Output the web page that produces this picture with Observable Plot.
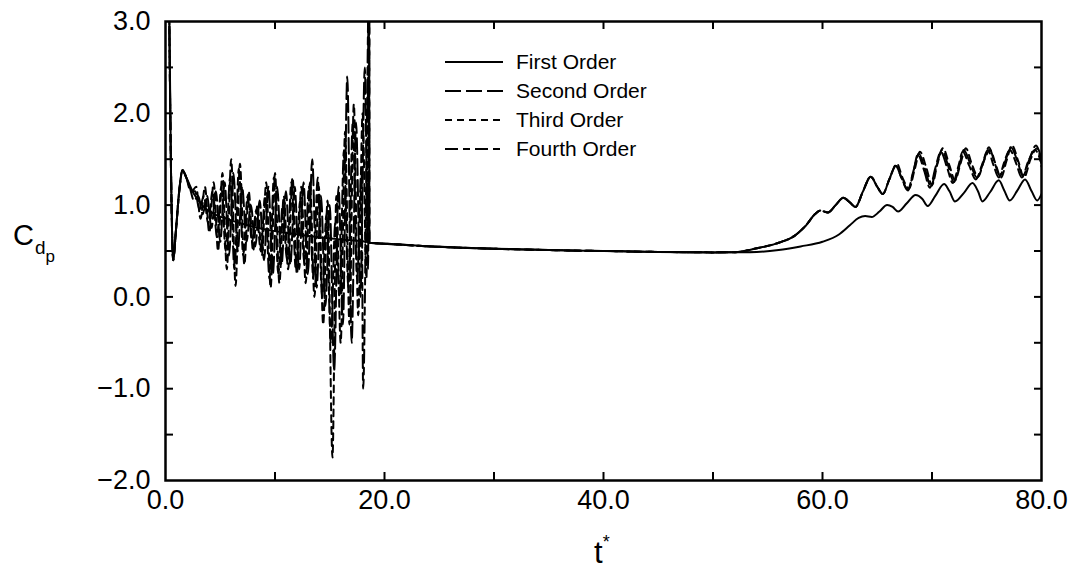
<!DOCTYPE html>
<html><head><meta charset="utf-8">
<script src="https://cdn.jsdelivr.net/npm/d3@7"></script>
<script src="https://cdn.jsdelivr.net/npm/@observablehq/plot@0.6"></script>
<style>
body{margin:0;background:#fff}
#wrap{position:relative;width:1078px;height:571px;font-family:"Liberation Sans",Arial,sans-serif}
#legend{position:absolute;left:0;top:0;pointer-events:none}
</style>
</head><body>
<div id="wrap"></div>
<script>
// ---- data (t*, Cdp) ----
const seriesNames = ["First Order", "Second Order", "Third Order", "Fourth Order"];
const seriesDash = [null, "16,5", "7,5", "13,5,7,5"];

const startup = [[0.3,3.6],[0.5,1.4],[0.7,0.4],[0.95,0.72],[1.25,1.15],[1.55,1.38],[1.9,1.3]];
const firstLeft = [[2.6,1.12],[3.5,0.98],[4.5,0.9],[5.6,0.85],[7.5,0.78],[9.3,0.73],[11.5,0.69],[14,0.65],[16.5,0.62],[18.6,0.595]];
const commonMid = [[18.62,0.59],[20,0.58],[25,0.545],[30,0.525],[35,0.51],[40,0.5],[45,0.49],[50,0.485],[52,0.487]];
const firstRight = [[54,0.49],[56,0.51],[58,0.55],[60,0.6],[61.5,0.68],[62.5,0.78],[63.3,0.86],[63.9,0.88],[64.5,0.87],[65.2,0.93],[65.9,1.0],[66.4,0.98],[66.9,0.93],[67.7,1.02],[68.5,1.11],[69.1,1.07],[69.6,0.99],[70.3,1.1],[71.1,1.23],[71.6,1.15],[72.1,1.04],[72.9,1.13],[73.7,1.24],[74.2,1.15],[74.6,1.04],[75.3,1.14],[76.1,1.27],[76.6,1.16],[77.1,1.05],[77.8,1.16],[78.5,1.28],[79.1,1.15],[79.6,1.05],[80,1.12]];

const secondLeft = [[2.2,1.2],[2.6,1.05],[3.0,1.1],[3.4,0.9],[3.8,1.1],[4.2,0.75],[4.6,1.15],[5.0,0.6],[5.4,1.25],[5.8,0.45],[6.2,1.35],[6.6,0.5],[7.0,1.2],[7.4,0.6],[7.8,1.0],[8.2,0.55],[8.6,1.05],[9.0,0.4],[9.4,1.2],[9.8,0.25],[10.2,1.2],[10.6,0.35],[11.0,1.15],[11.4,0.35],[11.8,1.2],[12.2,0.3],[12.6,1.25],[13.0,0.25],[13.4,1.5],[13.8,0.1],[14.2,1.1],[14.6,-0.1],[15.0,1.0],[15.4,-0.8],[15.8,1.2],[16.2,-0.3],[16.6,2.4],[17.0,-0.5],[17.4,1.9],[17.8,0.0],[18.2,2.5],[18.5,0.3],[18.6,3.6]];
const thirdLeft = [[2.4,1.15],[2.8,1.2],[3.2,0.85],[3.6,1.2],[4.0,0.7],[4.4,1.25],[4.8,0.5],[5.2,1.35],[5.6,0.3],[6.0,1.5],[6.4,0.12],[6.8,1.45],[7.2,0.35],[7.6,1.15],[8.0,0.5],[8.4,1.0],[8.8,0.45],[9.2,1.25],[9.6,0.1],[10.0,1.35],[10.4,0.15],[10.8,1.1],[11.2,0.3],[11.6,1.3],[12.0,0.25],[12.4,1.2],[12.8,0.15],[13.2,1.25],[13.6,0.0],[14.0,1.2],[14.4,-0.3],[14.8,1.05],[15.25,-1.75],[15.6,1.1],[16.0,-0.5],[16.4,1.8],[16.8,-0.3],[17.2,2.1],[17.6,-0.2],[18.0,2.0],[18.35,0.2],[18.6,3.6]];
const fourthLeft = [[2.3,1.15],[2.7,1.15],[3.1,0.95],[3.5,1.1],[3.9,0.8],[4.3,1.15],[4.7,0.65],[5.1,1.2],[5.5,0.5],[5.9,1.3],[6.3,0.3],[6.7,1.4],[7.1,0.45],[7.5,1.1],[7.9,0.6],[8.3,0.95],[8.7,0.5],[9.1,1.1],[9.5,0.2],[9.9,1.3],[10.3,0.25],[10.7,1.0],[11.1,0.4],[11.5,1.25],[11.9,0.3],[12.3,1.05],[12.7,0.35],[13.1,1.2],[13.5,0.2],[13.9,1.3],[14.3,0.0],[14.7,0.9],[15.1,-0.5],[15.5,0.8],[15.9,0.0],[16.3,1.6],[16.7,0.1],[17.1,1.9],[17.5,0.2],[17.9,1.4],[18.05,-1.0],[18.4,2.0],[18.6,3.6]];

const secondRight = [[54,0.53],[56,0.59],[57.5,0.67],[58.5,0.78],[59.3,0.9],[59.8,0.94],[60.5,0.92],[61.2,1.0],[61.9,1.08],[62.5,1.03],[63.0,0.98],[63.7,1.15],[64.4,1.31],[65.0,1.2],[65.5,1.12],[66.1,1.28],[66.7,1.43],[67.2,1.3],[67.8,1.17],[68.3,1.37],[68.8,1.56],[69.4,1.38],[69.9,1.2],[70.4,1.42],[70.9,1.6],[71.5,1.42],[72.0,1.25],[72.5,1.43],[72.9,1.6],[73.5,1.45],[74.1,1.3],[74.7,1.47],[75.2,1.63],[75.7,1.47],[76.2,1.32],[76.7,1.48],[77.2,1.63],[77.8,1.48],[78.3,1.32],[78.9,1.5],[79.5,1.65],[80,1.5]];
const thirdRight = [[54,0.53],[56,0.59],[57.5,0.67],[58.5,0.78],[59.3,0.9],[59.8,0.94],[60.5,0.92],[61.2,1.0],[61.9,1.08],[62.5,1.03],[63.0,0.98],[63.7,1.15],[64.4,1.31],[65.0,1.2],[65.5,1.12],[66.1,1.28],[66.8,1.45],[67.3,1.3],[67.9,1.18],[68.4,1.38],[68.9,1.58],[69.5,1.4],[70.0,1.22],[70.5,1.45],[71.0,1.62],[71.6,1.43],[72.1,1.27],[72.6,1.45],[73.1,1.62],[73.6,1.46],[74.2,1.31],[74.8,1.5],[75.3,1.6],[75.8,1.45],[76.3,1.3],[76.8,1.48],[77.3,1.65],[77.9,1.47],[78.4,1.3],[79.0,1.5],[79.6,1.62],[80,1.42]];
const fourthRight = [[54,0.53],[56,0.59],[57.5,0.67],[58.5,0.78],[59.3,0.9],[59.8,0.94],[60.5,0.92],[61.2,1.0],[61.9,1.08],[62.5,1.03],[63.0,0.98],[63.7,1.15],[64.4,1.31],[65.0,1.2],[65.5,1.12],[66.1,1.28],[66.7,1.43],[67.2,1.3],[67.8,1.16],[68.3,1.36],[68.7,1.55],[69.3,1.37],[69.8,1.19],[70.3,1.4],[70.8,1.58],[71.4,1.4],[71.9,1.24],[72.4,1.42],[72.8,1.58],[73.4,1.43],[74.0,1.28],[74.6,1.45],[75.1,1.6],[75.6,1.44],[76.1,1.3],[76.6,1.47],[77.1,1.6],[77.7,1.45],[78.2,1.3],[78.8,1.48],[79.4,1.6],[80,1.45]];

const xTickLabels = [0, 20, 40, 60, 80];
const xTickMarks = [10, 20, 30, 40, 50, 60, 70];
const yTickLabels = [-2, -1, 0, 1, 2, 3];
const yTickMarks = [-1.5, -1, -0.5, 0, 0.5, 1, 1.5, 2, 2.5];

// ---- build tables ----
const pieces = [
  [startup, firstLeft, commonMid, firstRight],
  [startup, secondLeft, commonMid, secondRight],
  [startup, thirdLeft, commonMid, thirdRight],
  [startup, fourthLeft, commonMid, fourthRight]
];
const tables = pieces.map((parts, i) => parts.flat().map(([t, v]) => ({t, v, s: seriesNames[i]})));

const W = 1078, H = 571, mL = 165, mR = 37, mT = 21, mB = 91;
const innerW = W - mL - mR, innerH = H - mT - mB;
const fmt = d => (d < 0 ? "\u2212" : "") + Math.abs(d).toFixed(1);
const FONT = "'Liberation Sans', Arial, sans-serif";

const lineMarks = tables.map((data, i) => Plot.line(data, {
  x: "t", y: "v", curve: "monotone-x", stroke: "black", strokeWidth: 2,
  strokeDasharray: seriesDash[i], clip: true
}));

const chart = Plot.plot({
  width: W, height: H,
  marginLeft: mL, marginRight: mR, marginTop: mT, marginBottom: mB,
  style: {fontFamily: FONT, fontSize: "27px", background: "white", color: "black"},
  x: {domain: [0, 80]},
  y: {domain: [-2, 3]},
  marks: [
    ...lineMarks.slice().reverse(),
    Plot.tickY(yTickMarks, {y: d => d, insetRight: innerW - 8, strokeWidth: 2}),
    Plot.tickY(yTickMarks, {y: d => d, insetLeft: innerW - 7, strokeWidth: 2}),
    Plot.tickX(xTickMarks, {x: d => d, insetTop: innerH - 8, strokeWidth: 2}),
    Plot.tickX(xTickMarks, {x: d => d, insetBottom: innerH - 8, strokeWidth: 2}),
    Plot.frame({strokeWidth: 2.5}),
    Plot.axisY(yTickLabels, {tickSize: 0, tickPadding: 15, tickFormat: fmt, label: null, fontSize: 27}),
    Plot.axisX(xTickLabels, {tickSize: 0, tickPadding: 9, tickFormat: fmt, label: null, fontSize: 27})
  ]
});
document.getElementById("wrap").appendChild(chart);

// axis titles
const svg = d3.select(chart);
const yl = svg.append("text").attr("x", 13).attr("y", 245).attr("fill", "black")
  .attr("text-anchor", "start").style("font-family", FONT);
yl.append("tspan").attr("font-size", 29).text("C");
yl.append("tspan").attr("font-size", 19).attr("dx", 1).attr("dy", 9).text("d");
yl.append("tspan").attr("font-size", 17).attr("dx", 0).attr("dy", 8).text("p");
const xl = svg.append("text").attr("x", 594).attr("y", 563).attr("fill", "black")
  .attr("text-anchor", "start").style("font-family", FONT);
xl.append("tspan").attr("font-size", 31).text("t");
xl.append("tspan").attr("font-size", 18).attr("dy", -15).text("*");

// legend overlay
const lg = d3.select("#wrap").append("svg").attr("id", "legend").attr("width", W).attr("height", H);
seriesNames.forEach((name, i) => {
  const y = 62 + i * 29;
  lg.append("line").attr("x1", 445).attr("x2", 503).attr("y1", y).attr("y2", y)
    .attr("stroke", "black").attr("stroke-width", 2)
    .attr("stroke-dasharray", seriesDash[i]);
  lg.append("text").attr("x", 516).attr("y", y + 7).attr("font-size", 21)
    .attr("fill", "black").attr("text-anchor", "start").style("font-family", FONT).text(name);
});
</script>
</body></html>
